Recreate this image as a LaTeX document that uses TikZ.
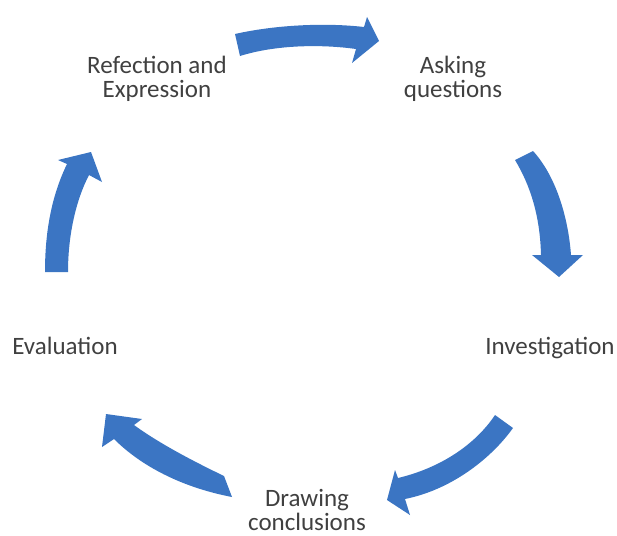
\documentclass[tikz,border=0pt]{standalone}
\usepackage{fontspec}
\setmainfont{Carlito}
\definecolor{arrowblue}{HTML}{3B75C3}
\definecolor{labelgray}{HTML}{404040}
\begin{document}
\begin{tikzpicture}[x=1pt,y=-1pt,
  cyclearrow/.style={fill=arrowblue, draw=none},
  lbl/.style={font=\fontsize{25}{24}\selectfont, text=labelgray, align=center, inner sep=0pt, anchor=base}]
\useasboundingbox (0,0) rectangle (617,535);
% labels (base anchor = baseline of last line)
\node[lbl] (refl) at (157,97) {Refection and\\Expression};
\node[lbl] (ask) at (453,97) {Asking\\questions};
\node[lbl] (inv) at (550,354) {Investigation};
\node[lbl] (drw) at (307,530) {Drawing\\conclusions};
\node[lbl] (eval) at (65,354) {Evaluation};
% top arrow
\fill[cyclearrow] (235,34) .. controls (270,26) and (320,22) .. (364,27) -- (367,17) -- (379,41) -- (352,63) -- (356,49) .. controls (320,44) and (275,45) .. (240,56) -- cycle;
% right arrow
\fill[cyclearrow] (515,160) .. controls (530,185) and (540,215) .. (541,255) -- (532,255) -- (559,277) -- (583,255) -- (571,255) .. controls (568,215) and (555,175) .. (533,151) -- cycle;
% bottom-right arrow
\fill[cyclearrow] (495,415) .. controls (475,445) and (440,468) .. (398,478) -- (395,470) -- (387,500) -- (410,515) -- (405,499) .. controls (450,490) and (490,460) .. (513,428) -- cycle;
% bottom-left arrow
\fill[cyclearrow] (224,476) .. controls (195,462) and (160,444) .. (134,425) -- (142,419) -- (106,414) -- (102,447) -- (114,439) .. controls (140,465) and (180,487) .. (232,497) -- cycle;
% left arrow
\fill[cyclearrow] (45,272) .. controls (45,230) and (52,195) .. (67,164) -- (58,160) -- (91,152) -- (102,182) -- (89,175) .. controls (76,200) and (68,235) .. (68,272) -- cycle;
\end{tikzpicture}
\end{document}
